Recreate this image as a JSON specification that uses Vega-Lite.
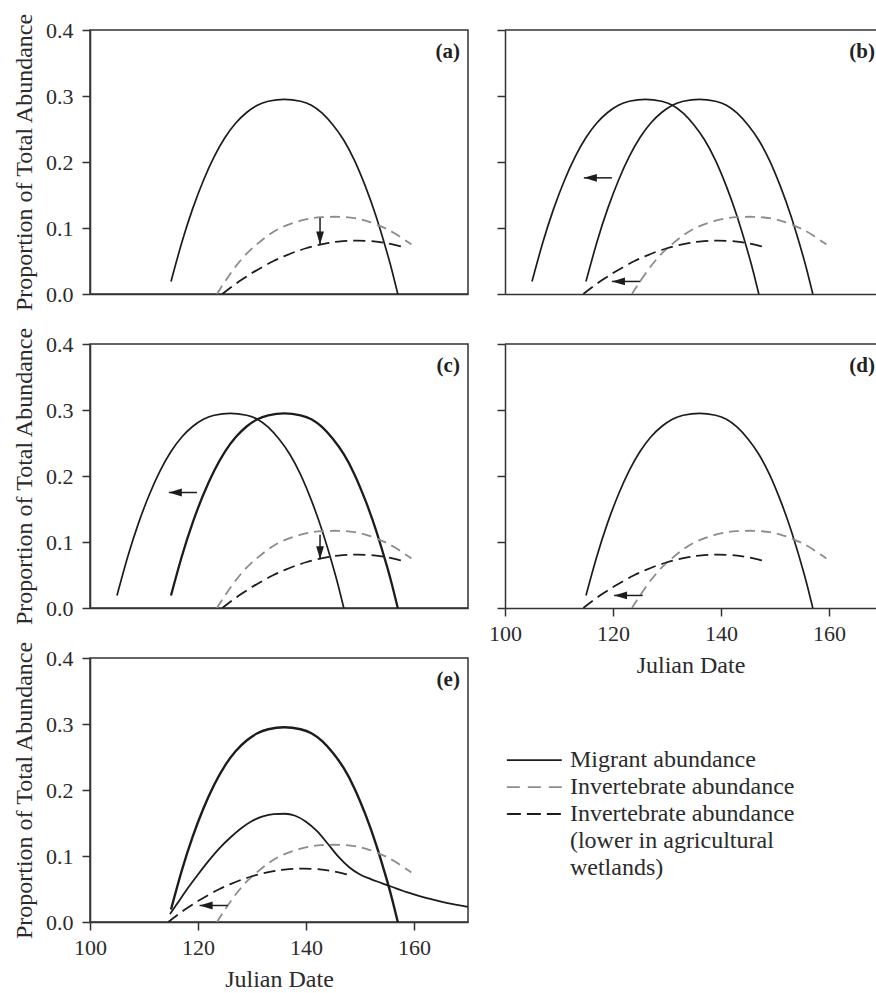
{
  "$schema": "https://vega.github.io/schema/vega-lite/v6.json",
  "padding": {"left": 11, "top": 11, "right": 0, "bottom": 0},
  "background": "white",
  "config": {
    "font": "Liberation Serif",
    "view": {"stroke": "#333333", "strokeWidth": 1.5},
    "axis": {
      "labelFont": "Liberation Serif", "labelFontSize": 22, "labelColor": "#2b2b2b",
      "titleFont": "Liberation Serif", "titleFontSize": 24, "titleFontWeight": "normal", "titleColor": "#2b2b2b",
      "domainColor": "#333333", "domainWidth": 1.5, "tickColor": "#333333", "tickWidth": 1.5, "tickSize": 8,
      "grid": false, "labelFlush": false
    }
  },
  "datasets": {
    "curves": [
      {"s": "M0", "x": 115, "y": 0.019}, {"s": "M0", "x": 117, "y": 0.078}, {"s": "M0", "x": 119, "y": 0.129}, {"s": "M0", "x": 121, "y": 0.172}, {"s": "M0", "x": 123, "y": 0.208}, {"s": "M0", "x": 125, "y": 0.237}, {"s": "M0", "x": 127, "y": 0.259}, {"s": "M0", "x": 129, "y": 0.275}, {"s": "M0", "x": 131, "y": 0.286}, {"s": "M0", "x": 133, "y": 0.292}, {"s": "M0", "x": 136, "y": 0.295}, {"s": "M0", "x": 139, "y": 0.292}, {"s": "M0", "x": 141, "y": 0.286}, {"s": "M0", "x": 143, "y": 0.274}, {"s": "M0", "x": 145, "y": 0.256}, {"s": "M0", "x": 147, "y": 0.233}, {"s": "M0", "x": 149, "y": 0.202}, {"s": "M0", "x": 151, "y": 0.163}, {"s": "M0", "x": 153, "y": 0.117}, {"s": "M0", "x": 155, "y": 0.063}, {"s": "M0", "x": 156, "y": 0.033}, {"s": "M0", "x": 157, "y": 0},
      {"s": "M1", "x": 105, "y": 0.019}, {"s": "M1", "x": 107, "y": 0.078}, {"s": "M1", "x": 109, "y": 0.129}, {"s": "M1", "x": 111, "y": 0.172}, {"s": "M1", "x": 113, "y": 0.208}, {"s": "M1", "x": 115, "y": 0.237}, {"s": "M1", "x": 117, "y": 0.259}, {"s": "M1", "x": 119, "y": 0.275}, {"s": "M1", "x": 121, "y": 0.286}, {"s": "M1", "x": 123, "y": 0.292}, {"s": "M1", "x": 126, "y": 0.295}, {"s": "M1", "x": 129, "y": 0.292}, {"s": "M1", "x": 131, "y": 0.286}, {"s": "M1", "x": 133, "y": 0.274}, {"s": "M1", "x": 135, "y": 0.256}, {"s": "M1", "x": 137, "y": 0.233}, {"s": "M1", "x": 139, "y": 0.202}, {"s": "M1", "x": 141, "y": 0.163}, {"s": "M1", "x": 143, "y": 0.117}, {"s": "M1", "x": 145, "y": 0.063}, {"s": "M1", "x": 146, "y": 0.033}, {"s": "M1", "x": 147, "y": 0},
      {"s": "G", "x": 123.5, "y": 0}, {"s": "G", "x": 125, "y": 0.019}, {"s": "G", "x": 127, "y": 0.042}, {"s": "G", "x": 129, "y": 0.061}, {"s": "G", "x": 131, "y": 0.076}, {"s": "G", "x": 133, "y": 0.089}, {"s": "G", "x": 135, "y": 0.099}, {"s": "G", "x": 137, "y": 0.106}, {"s": "G", "x": 139, "y": 0.111}, {"s": "G", "x": 141, "y": 0.1147}, {"s": "G", "x": 143, "y": 0.1164}, {"s": "G", "x": 146, "y": 0.117}, {"s": "G", "x": 149, "y": 0.1149}, {"s": "G", "x": 151, "y": 0.1112}, {"s": "G", "x": 153, "y": 0.1057}, {"s": "G", "x": 155, "y": 0.0983}, {"s": "G", "x": 157, "y": 0.089}, {"s": "G", "x": 159, "y": 0.0779}, {"s": "G", "x": 159.5, "y": 0.075},
      {"s": "K0", "x": 124.5, "y": 0}, {"s": "K0", "x": 126, "y": 0.0094}, {"s": "K0", "x": 128, "y": 0.0211}, {"s": "K0", "x": 130, "y": 0.0317}, {"s": "K0", "x": 132, "y": 0.0413}, {"s": "K0", "x": 134, "y": 0.0499}, {"s": "K0", "x": 136, "y": 0.0574}, {"s": "K0", "x": 138, "y": 0.0639}, {"s": "K0", "x": 140, "y": 0.0693}, {"s": "K0", "x": 142, "y": 0.0737}, {"s": "K0", "x": 144, "y": 0.0771}, {"s": "K0", "x": 146, "y": 0.0794}, {"s": "K0", "x": 149.5, "y": 0.081}, {"s": "K0", "x": 153, "y": 0.0793}, {"s": "K0", "x": 155, "y": 0.0769}, {"s": "K0", "x": 157, "y": 0.0734}, {"s": "K0", "x": 158.5, "y": 0.0701},
      {"s": "K1", "x": 114.5, "y": 0}, {"s": "K1", "x": 116, "y": 0.0094}, {"s": "K1", "x": 118, "y": 0.0211}, {"s": "K1", "x": 120, "y": 0.0317}, {"s": "K1", "x": 122, "y": 0.0413}, {"s": "K1", "x": 124, "y": 0.0499}, {"s": "K1", "x": 126, "y": 0.0574}, {"s": "K1", "x": 128, "y": 0.0639}, {"s": "K1", "x": 130, "y": 0.0693}, {"s": "K1", "x": 132, "y": 0.0737}, {"s": "K1", "x": 134, "y": 0.0771}, {"s": "K1", "x": 136, "y": 0.0794}, {"s": "K1", "x": 139.5, "y": 0.081}, {"s": "K1", "x": 143, "y": 0.0793}, {"s": "K1", "x": 145, "y": 0.0769}, {"s": "K1", "x": 147, "y": 0.0734}, {"s": "K1", "x": 148.5, "y": 0.0701},
      {"s": "E2", "x": 114.8, "y": 0.012}, {"s": "E2", "x": 116, "y": 0.026}, {"s": "E2", "x": 118, "y": 0.05}, {"s": "E2", "x": 120, "y": 0.072}, {"s": "E2", "x": 122, "y": 0.093}, {"s": "E2", "x": 124, "y": 0.112}, {"s": "E2", "x": 126, "y": 0.128}, {"s": "E2", "x": 128, "y": 0.142}, {"s": "E2", "x": 130, "y": 0.153}, {"s": "E2", "x": 132, "y": 0.16}, {"s": "E2", "x": 134, "y": 0.1635}, {"s": "E2", "x": 136, "y": 0.164}, {"s": "E2", "x": 138, "y": 0.161}, {"s": "E2", "x": 140, "y": 0.152}, {"s": "E2", "x": 142, "y": 0.138}, {"s": "E2", "x": 144, "y": 0.119}, {"s": "E2", "x": 146, "y": 0.099}, {"s": "E2", "x": 148, "y": 0.083}, {"s": "E2", "x": 150, "y": 0.072}, {"s": "E2", "x": 152, "y": 0.065}, {"s": "E2", "x": 154, "y": 0.059}, {"s": "E2", "x": 156, "y": 0.053}, {"s": "E2", "x": 158, "y": 0.047}, {"s": "E2", "x": 160, "y": 0.042}, {"s": "E2", "x": 163, "y": 0.035}, {"s": "E2", "x": 166, "y": 0.029}, {"s": "E2", "x": 170, "y": 0.023}
    ],
    "arrows": [
      {"p": "a", "x": 142.6, "y": 0.115, "x2": 142.6, "y2": 0.075},
      {"p": "b", "x": 119.8, "y": 0.176, "x2": 114.6, "y2": 0.176},
      {"p": "b", "x": 125.1, "y": 0.019, "x2": 119.8, "y2": 0.019},
      {"p": "c", "x": 119.8, "y": 0.175, "x2": 114.6, "y2": 0.175},
      {"p": "c", "x": 142.6, "y": 0.111, "x2": 142.6, "y2": 0.074},
      {"p": "d", "x": 125.5, "y": 0.019, "x2": 120.2, "y2": 0.019},
      {"p": "e", "x": 125.5, "y": 0.025, "x2": 120.3, "y2": 0.025}
    ],
    "heads": [
      {"p": "a", "d": "D", "x": 142.6, "y": 0.075},
      {"p": "b", "d": "L", "x": 114.6, "y": 0.176},
      {"p": "b", "d": "L", "x": 119.8, "y": 0.019},
      {"p": "c", "d": "L", "x": 114.6, "y": 0.175},
      {"p": "c", "d": "D", "x": 142.6, "y": 0.074},
      {"p": "d", "d": "L", "x": 120.2, "y": 0.019},
      {"p": "e", "d": "L", "x": 120.3, "y": 0.025}
    ],
    "labels": [
      {"p": "a", "x": 168.5, "y": 0.367, "t": "(a)"},
      {"p": "b", "x": 168.5, "y": 0.367, "t": "(b)"},
      {"p": "c", "x": 168.5, "y": 0.367, "t": "(c)"},
      {"p": "d", "x": 168.5, "y": 0.367, "t": "(d)"},
      {"p": "e", "x": 168.5, "y": 0.367, "t": "(e)"}
    ],
    "frame": [{"x": 100, "x2": 168.7, "y": 0.4}],
    "legendLines": [
      {"k": "M", "x": 0.5, "x2": 15.3, "row": 1},
      {"k": "G", "x": 0.5, "x2": 15.3, "row": 2},
      {"k": "K", "x": 0.5, "x2": 15.3, "row": 3}
    ],
    "legendText": [
      {"x": 17.5, "row": 1, "t": "Migrant abundance"},
      {"x": 17.5, "row": 2, "t": "Invertebrate abundance"},
      {"x": 17.5, "row": 3, "t": "Invertebrate abundance"},
      {"x": 17.5, "row": 4, "t": "(lower in agricultural"},
      {"x": 17.5, "row": 5, "t": "wetlands)"}
    ]
  },
  "columns": 2,
  "spacing": {"row": 50, "column": 37},
  "bounds": "flush",
  "concat": [
    {
      "width": 378, "height": 264,
      "encoding": {
        "x": {"field": "x", "type": "quantitative", "scale": {"domain": [100, 170], "nice": false, "zero": false}, "axis": {"title": null, "labels": false, "ticks": false}},
        "y": {"field": "y", "type": "quantitative", "scale": {"domain": [0, 0.4], "nice": false, "zero": false}, "axis": {"title": "Proportion of Total Abundance", "values": [0, 0.1, 0.2, 0.3, 0.4], "format": ".1f", "labelPadding": 9, "titlePadding": 9}}
      },
      "layer": [
        {"data": {"name": "curves"}, "transform": [{"filter": "datum.s == 'M0'"}], "mark": {"type": "line", "color": "#1c1c1c", "strokeWidth": 1.7, "interpolate": "natural", "clip": true}},
        {"data": {"name": "curves"}, "transform": [{"filter": "datum.s == 'G'"}], "mark": {"type": "line", "color": "#8c8c8c", "strokeWidth": 1.8, "strokeDash": [10, 6], "interpolate": "natural", "clip": true}},
        {"data": {"name": "curves"}, "transform": [{"filter": "datum.s == 'K0'"}], "mark": {"type": "line", "color": "#1c1c1c", "strokeWidth": 1.8, "strokeDash": [12, 6], "interpolate": "natural", "clip": true}},
        {"data": {"name": "arrows"}, "transform": [{"filter": "datum.p == 'a'"}], "mark": {"type": "rule", "color": "#1c1c1c", "strokeWidth": 1.5}, "encoding": {"x2": {"field": "x2"}, "y2": {"field": "y2"}}},
        {"data": {"name": "heads"}, "transform": [{"filter": "datum.p == 'a'"}], "mark": {"type": "point", "filled": true, "color": "#1c1c1c", "opacity": 1, "size": 169}, "encoding": {"shape": {"field": "d", "type": "nominal", "scale": {"domain": ["L", "D"], "range": ["M0,0L2,-0.6L2,0.6Z", "M0,0L-0.6,-2L0.6,-2Z"]}, "legend": null}}},
        {"data": {"name": "labels"}, "transform": [{"filter": "datum.p == 'a'"}], "mark": {"type": "text", "align": "right", "baseline": "middle", "fontSize": 21, "fontWeight": "bold", "color": "#222222"}, "encoding": {"text": {"field": "t"}}}
      ]
    },
    {
      "width": 371, "height": 264,
      "view": {"stroke": null},
      "encoding": {
        "x": {"field": "x", "type": "quantitative", "scale": {"domain": [100, 168.7], "nice": false, "zero": false}, "axis": {"title": null, "labels": false, "ticks": false}},
        "y": {"field": "y", "type": "quantitative", "scale": {"domain": [0, 0.4], "nice": false, "zero": false}, "axis": {"title": null, "labels": false, "values": [0, 0.1, 0.2, 0.3, 0.4]}}
      },
      "layer": [
        {"data": {"name": "frame"}, "mark": {"type": "rule", "color": "#333333", "strokeWidth": 1.5}, "encoding": {"x2": {"field": "x2"}}},
        {"data": {"name": "curves"}, "transform": [{"filter": "datum.s == 'M0' || datum.s == 'M1'"}], "mark": {"type": "line", "color": "#1c1c1c", "strokeWidth": 1.7, "interpolate": "natural", "clip": true}, "encoding": {"detail": {"field": "s"}}},
        {"data": {"name": "curves"}, "transform": [{"filter": "datum.s == 'G'"}], "mark": {"type": "line", "color": "#8c8c8c", "strokeWidth": 1.8, "strokeDash": [10, 6], "interpolate": "natural", "clip": true}},
        {"data": {"name": "curves"}, "transform": [{"filter": "datum.s == 'K1'"}], "mark": {"type": "line", "color": "#1c1c1c", "strokeWidth": 1.8, "strokeDash": [12, 6], "interpolate": "natural", "clip": true}},
        {"data": {"name": "arrows"}, "transform": [{"filter": "datum.p == 'b'"}], "mark": {"type": "rule", "color": "#1c1c1c", "strokeWidth": 1.5}, "encoding": {"x2": {"field": "x2"}, "y2": {"field": "y2"}}},
        {"data": {"name": "heads"}, "transform": [{"filter": "datum.p == 'b'"}], "mark": {"type": "point", "filled": true, "color": "#1c1c1c", "opacity": 1, "size": 169}, "encoding": {"shape": {"field": "d", "type": "nominal", "scale": {"domain": ["L", "D"], "range": ["M0,0L2,-0.6L2,0.6Z", "M0,0L-0.6,-2L0.6,-2Z"]}, "legend": null}}},
        {"data": {"name": "labels"}, "transform": [{"filter": "datum.p == 'b'"}], "mark": {"type": "text", "align": "right", "baseline": "middle", "fontSize": 21, "fontWeight": "bold", "color": "#222222"}, "encoding": {"text": {"field": "t"}}}
      ]
    },
    {
      "width": 378, "height": 264,
      "encoding": {
        "x": {"field": "x", "type": "quantitative", "scale": {"domain": [100, 170], "nice": false, "zero": false}, "axis": {"title": null, "labels": false, "ticks": false}},
        "y": {"field": "y", "type": "quantitative", "scale": {"domain": [0, 0.4], "nice": false, "zero": false}, "axis": {"title": "Proportion of Total Abundance", "values": [0, 0.1, 0.2, 0.3, 0.4], "format": ".1f", "labelPadding": 9, "titlePadding": 9}}
      },
      "layer": [
        {"data": {"name": "curves"}, "transform": [{"filter": "datum.s == 'M1'"}], "mark": {"type": "line", "color": "#1c1c1c", "strokeWidth": 1.7, "interpolate": "natural", "clip": true}},
        {"data": {"name": "curves"}, "transform": [{"filter": "datum.s == 'M0'"}], "mark": {"type": "line", "color": "#1c1c1c", "strokeWidth": 2.3, "interpolate": "natural", "clip": true}},
        {"data": {"name": "curves"}, "transform": [{"filter": "datum.s == 'G'"}], "mark": {"type": "line", "color": "#8c8c8c", "strokeWidth": 1.8, "strokeDash": [10, 6], "interpolate": "natural", "clip": true}},
        {"data": {"name": "curves"}, "transform": [{"filter": "datum.s == 'K0'"}], "mark": {"type": "line", "color": "#1c1c1c", "strokeWidth": 1.8, "strokeDash": [12, 6], "interpolate": "natural", "clip": true}},
        {"data": {"name": "arrows"}, "transform": [{"filter": "datum.p == 'c'"}], "mark": {"type": "rule", "color": "#1c1c1c", "strokeWidth": 1.5}, "encoding": {"x2": {"field": "x2"}, "y2": {"field": "y2"}}},
        {"data": {"name": "heads"}, "transform": [{"filter": "datum.p == 'c'"}], "mark": {"type": "point", "filled": true, "color": "#1c1c1c", "opacity": 1, "size": 169}, "encoding": {"shape": {"field": "d", "type": "nominal", "scale": {"domain": ["L", "D"], "range": ["M0,0L2,-0.6L2,0.6Z", "M0,0L-0.6,-2L0.6,-2Z"]}, "legend": null}}},
        {"data": {"name": "labels"}, "transform": [{"filter": "datum.p == 'c'"}], "mark": {"type": "text", "align": "right", "baseline": "middle", "fontSize": 21, "fontWeight": "bold", "color": "#222222"}, "encoding": {"text": {"field": "t"}}}
      ]
    },
    {
      "width": 371, "height": 264,
      "view": {"stroke": null},
      "encoding": {
        "x": {"field": "x", "type": "quantitative", "scale": {"domain": [100, 168.7], "nice": false, "zero": false}, "axis": {"title": "Julian Date", "values": [100, 120, 140, 160], "labelPadding": 7, "titlePadding": 9}},
        "y": {"field": "y", "type": "quantitative", "scale": {"domain": [0, 0.4], "nice": false, "zero": false}, "axis": {"title": null, "labels": false, "values": [0, 0.1, 0.2, 0.3, 0.4]}}
      },
      "layer": [
        {"data": {"name": "frame"}, "mark": {"type": "rule", "color": "#333333", "strokeWidth": 1.5}, "encoding": {"x2": {"field": "x2"}}},
        {"data": {"name": "curves"}, "transform": [{"filter": "datum.s == 'M0'"}], "mark": {"type": "line", "color": "#1c1c1c", "strokeWidth": 1.7, "interpolate": "natural", "clip": true}},
        {"data": {"name": "curves"}, "transform": [{"filter": "datum.s == 'G'"}], "mark": {"type": "line", "color": "#8c8c8c", "strokeWidth": 1.8, "strokeDash": [10, 6], "interpolate": "natural", "clip": true}},
        {"data": {"name": "curves"}, "transform": [{"filter": "datum.s == 'K1'"}], "mark": {"type": "line", "color": "#1c1c1c", "strokeWidth": 1.8, "strokeDash": [12, 6], "interpolate": "natural", "clip": true}},
        {"data": {"name": "arrows"}, "transform": [{"filter": "datum.p == 'd'"}], "mark": {"type": "rule", "color": "#1c1c1c", "strokeWidth": 1.5}, "encoding": {"x2": {"field": "x2"}, "y2": {"field": "y2"}}},
        {"data": {"name": "heads"}, "transform": [{"filter": "datum.p == 'd'"}], "mark": {"type": "point", "filled": true, "color": "#1c1c1c", "opacity": 1, "size": 169}, "encoding": {"shape": {"field": "d", "type": "nominal", "scale": {"domain": ["L", "D"], "range": ["M0,0L2,-0.6L2,0.6Z", "M0,0L-0.6,-2L0.6,-2Z"]}, "legend": null}}},
        {"data": {"name": "labels"}, "transform": [{"filter": "datum.p == 'd'"}], "mark": {"type": "text", "align": "right", "baseline": "middle", "fontSize": 21, "fontWeight": "bold", "color": "#222222"}, "encoding": {"text": {"field": "t"}}}
      ]
    },
    {
      "width": 378, "height": 264,
      "encoding": {
        "x": {"field": "x", "type": "quantitative", "scale": {"domain": [100, 170], "nice": false, "zero": false}, "axis": {"title": "Julian Date", "values": [100, 120, 140, 160], "labelPadding": 7, "titlePadding": 9}},
        "y": {"field": "y", "type": "quantitative", "scale": {"domain": [0, 0.4], "nice": false, "zero": false}, "axis": {"title": "Proportion of Total Abundance", "values": [0, 0.1, 0.2, 0.3, 0.4], "format": ".1f", "labelPadding": 9, "titlePadding": 9}}
      },
      "layer": [
        {"data": {"name": "curves"}, "transform": [{"filter": "datum.s == 'M0'"}], "mark": {"type": "line", "color": "#1c1c1c", "strokeWidth": 2.4, "interpolate": "natural", "clip": true}},
        {"data": {"name": "curves"}, "transform": [{"filter": "datum.s == 'E2'"}], "mark": {"type": "line", "color": "#1c1c1c", "strokeWidth": 1.8, "interpolate": "monotone", "clip": true}},
        {"data": {"name": "curves"}, "transform": [{"filter": "datum.s == 'G'"}], "mark": {"type": "line", "color": "#8c8c8c", "strokeWidth": 1.8, "strokeDash": [10, 6], "interpolate": "natural", "clip": true}},
        {"data": {"name": "curves"}, "transform": [{"filter": "datum.s == 'K1'"}], "mark": {"type": "line", "color": "#1c1c1c", "strokeWidth": 1.8, "strokeDash": [12, 6], "interpolate": "natural", "clip": true}},
        {"data": {"name": "arrows"}, "transform": [{"filter": "datum.p == 'e'"}], "mark": {"type": "rule", "color": "#1c1c1c", "strokeWidth": 1.5}, "encoding": {"x2": {"field": "x2"}, "y2": {"field": "y2"}}},
        {"data": {"name": "heads"}, "transform": [{"filter": "datum.p == 'e'"}], "mark": {"type": "point", "filled": true, "color": "#1c1c1c", "opacity": 1, "size": 169}, "encoding": {"shape": {"field": "d", "type": "nominal", "scale": {"domain": ["L", "D"], "range": ["M0,0L2,-0.6L2,0.6Z", "M0,0L-0.6,-2L0.6,-2Z"]}, "legend": null}}},
        {"data": {"name": "labels"}, "transform": [{"filter": "datum.p == 'e'"}], "mark": {"type": "text", "align": "right", "baseline": "middle", "fontSize": 21, "fontWeight": "bold", "color": "#222222"}, "encoding": {"text": {"field": "t"}}}
      ]
    },
    {
      "width": 371, "height": 264,
      "view": {"stroke": null},
      "encoding": {
        "x": {"field": "x", "type": "quantitative", "scale": {"domain": [0, 100], "nice": false, "zero": false}, "axis": null},
        "y": {"field": "row", "type": "quantitative", "scale": {"domain": [-2.78, 7], "nice": false, "zero": false, "reverse": true}, "axis": null}
      },
      "layer": [
        {"data": {"name": "legendLines"}, "mark": {"type": "rule", "strokeWidth": 1.8}, "encoding": {
          "x2": {"field": "x2"},
          "color": {"field": "k", "type": "nominal", "scale": {"domain": ["M", "G", "K"], "range": ["#1c1c1c", "#8c8c8c", "#1c1c1c"]}, "legend": null},
          "strokeDash": {"field": "k", "type": "nominal", "scale": {"domain": ["M", "G", "K"], "range": [[1, 0], [13, 8], [14, 6]]}, "legend": null}
        }},
        {"data": {"name": "legendText"}, "mark": {"type": "text", "align": "left", "baseline": "middle", "fontSize": 24, "color": "#2b2b2b"}, "encoding": {"text": {"field": "t"}}}
      ]
    }
  ]
}
